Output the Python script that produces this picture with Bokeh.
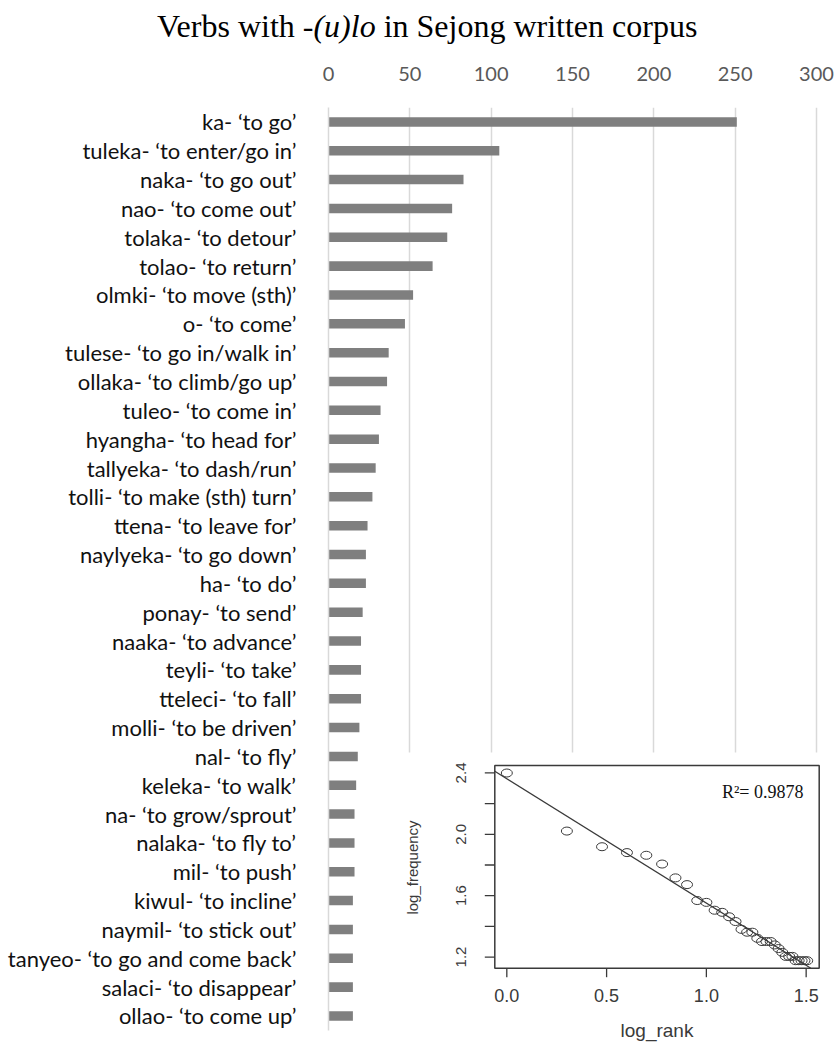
import numpy as np
from bokeh.plotting import figure
from bokeh.layouts import column
from bokeh.models import Range1d, FixedTicker, Label, Div
from bokeh.embed import file_html
from bokeh.resources import INLINE
from bokeh.core.properties import value

# ---------------- data ----------------
verbs = [
    "ka- ‘to go’", "tuleka- ‘to enter/go in’", "naka- ‘to go out’", "nao- ‘to come out’",
    "tolaka- ‘to detour’", "tolao- ‘to return’", "olmki- ‘to move (sth)’", "o- ‘to come’",
    "tulese- ‘to go in/walk in’", "ollaka- ‘to climb/go up’", "tuleo- ‘to come in’",
    "hyangha- ‘to head for’", "tallyeka- ‘to dash/run’", "tolli- ‘to make (sth) turn’",
    "ttena- ‘to leave for’", "naylyeka- ‘to go down’", "ha- ‘to do’", "ponay- ‘to send’",
    "naaka- ‘to advance’", "teyli- ‘to take’", "tteleci- ‘to fall’", "molli- ‘to be driven’",
    "nal- ‘to fly’", "keleka- ‘to walk’", "na- ‘to grow/sprout’", "nalaka- ‘to fly to’",
    "mil- ‘to push’", "kiwul- ‘to incline’", "naymil- ‘to stick out’",
    "tanyeo- ‘to go and come back’", "salaci- ‘to disappear’", "ollao- ‘to come up’",
]
counts = [251, 105, 83, 76, 73, 64, 52, 47, 37, 36, 32, 31, 29, 27, 24, 23, 23, 21,
          20, 20, 20, 19, 18, 17, 16, 16, 16, 15, 15, 15, 15, 15]
x_ticks = [0, 50, 100, 150, 200, 250, 300]
title_parts = ["Verbs with -", "(u)lo", " in Sejong written corpus"]

inset_x_ticks = [0.0, 0.5, 1.0, 1.5]
inset_x_labels = ["0.0", "0.5", "1.0", "1.5"]
inset_y_ticks = [1.2, 1.4, 1.6, 1.8, 2.0, 2.2, 2.4]
inset_y_label_vals = [1.2, 1.6, 2.0, 2.4]
inset_y_labels = ["1.2", "1.6", "2.0", "2.4"]
r2_text = "R²= 0.9878"
inset_xlabel = "log_rank"
inset_ylabel = "log_frequency"

# ---------------- layout (page pixels) ----------------
W, H = 839, 1048
TH = 50                       # title strip height
FL, FT = 328, 107             # main frame left / top
FW, FB = W - FL, H            # frame width / frame bottom
ROW = 28.84                   # pixels per category row
PX_PER_UNIT = 1.6267          # pixels per count unit
BOX_L, BOX_R, BOX_T, BOX_B = 494.3, 818.7, 765.0, 967.7
border = "#d9d9d9"

n = len(verbs)
rank = np.arange(1, n + 1)
log_rank = np.log10(rank)
log_freq = np.log10(np.array(counts, dtype=float))

def ext(lo, hi):
    d = (hi - lo) * 0.04
    return lo - d, hi + d

xlim0, xlim1 = ext(log_rank.min(), log_rank.max())
ylim0, ylim1 = ext(log_freq.min(), log_freq.max())
sx = (BOX_R - BOX_L) / (xlim1 - xlim0)
sy = (BOX_B - BOX_T) / (ylim1 - ylim0)

def ix(px):
    return xlim0 + (px - BOX_L) / sx

def iy(py):
    return ylim0 + (BOX_B - py) / sy

# ---------------- title strip ----------------
title_html = (
    '<div style="padding:10px 0 0 157px;font-family:\'Liberation Serif\',serif;'
    'font-size:32px;line-height:32px;color:#000;white-space:nowrap;">'
    f'{title_parts[0]}<i>{title_parts[1]}</i>{title_parts[2]}</div>'
)
t = Div(text=title_html, width=W, height=TH, margin=0,
        styles={"overflow": "visible", "margin": "0", "padding": "0"})

# ---------------- main chart ----------------
fh = FB - FT
p = figure(
    width=W, height=H - TH,
    y_range=Range1d(0.5 + fh / ROW, 0.5),
    x_range=Range1d(0, FW / PX_PER_UNIT),
    frame_width=FW, frame_height=fh,
    min_border_left=FL, min_border_right=0, min_border_top=FT - TH, min_border_bottom=0,
    x_axis_location="above",
    toolbar_location=None, output_backend="svg",
    outline_line_color=None, background_fill_color="white", border_fill_color="white",
)
p.extra_x_ranges = {"ix": Range1d(ix(FL), ix(W))}
p.extra_y_ranges = {"iy": Range1d(iy(FB), iy(FT))}

p.xaxis.ticker = FixedTicker(ticks=x_ticks)
p.xaxis.axis_line_color = None
p.xaxis.major_tick_line_color = None
p.xaxis.minor_tick_line_color = None
p.xaxis.major_label_text_font = "Lato"
p.xaxis.major_label_text_font_size = "20px"
p.xaxis.major_label_text_color = "#595959"
p.xaxis.major_label_standoff = 21

p.yaxis.ticker = FixedTicker(ticks=[int(r) for r in rank])
p.yaxis.major_label_overrides = {int(r): v for r, v in zip(rank, verbs)}
p.yaxis.bounds = (0.5, n + 0.5)
p.yaxis.axis_line_color = border
p.yaxis.axis_line_width = 1.5
p.yaxis.major_tick_line_color = None
p.yaxis.minor_tick_line_color = None
p.yaxis.major_label_text_font = "Lato"
p.yaxis.major_label_text_font_size = "22px"
p.yaxis.major_label_text_color = "#111111"
p.yaxis.major_label_standoff = 26

p.xgrid.grid_line_color = border
p.xgrid.grid_line_width = 1.5
try:
    p.xgrid.cross_bounds = (0.5, n + 0.5)
except Exception:
    pass
p.ygrid.grid_line_color = None

p.hbar(y=rank, left=0, right=counts, height=0.33, fill_color="#7f7f7f", line_color=None)

# ---------------- inset ----------------
dk = "#3a3a3a"
R = dict(x_range_name="ix", y_range_name="iy")
p.quad(left=ix(398), right=ix(W + 5), top=iy(752), bottom=iy(H + 5),
       fill_color="white", line_color=None, **R)
p.quad(left=xlim0, right=xlim1, top=ylim1, bottom=ylim0, fill_color=None,
       line_color=dk, line_width=1.5, **R)

p.segment(x0=[xlim0 - 10 / sx] * len(inset_y_ticks), x1=[xlim0] * len(inset_y_ticks),
          y0=inset_y_ticks, y1=inset_y_ticks, line_color=dk, line_width=1.3, **R)
p.segment(x0=inset_x_ticks, x1=inset_x_ticks, y0=[ylim0] * len(inset_x_ticks),
          y1=[ylim0 - 9 / sy] * len(inset_x_ticks), line_color=dk, line_width=1.3, **R)

p.text(x=[ix(460)] * len(inset_y_labels), y=inset_y_label_vals, text=inset_y_labels,
       angle=np.pi / 2, text_align="center", text_baseline="middle",
       text_font=value("Liberation Sans"), text_font_size="15px", text_color=dk, **R)
p.text(x=inset_x_ticks, y=[iy(995)] * len(inset_x_ticks), text=inset_x_labels,
       text_align="center", text_baseline="middle",
       text_font=value("Liberation Sans"), text_font_size="18px", text_color=dk, **R)

p.add_layout(Label(x=ix(412), y=iy(867), text=inset_ylabel, angle=np.pi / 2,
                   text_align="center", text_baseline="middle", text_font="Liberation Sans",
                   text_font_size="15px", text_color=dk, **R))
p.add_layout(Label(x=(xlim0 + xlim1) / 2, y=iy(1030), text=inset_xlabel,
                   text_align="center", text_baseline="middle", text_font="Liberation Sans",
                   text_font_size="19px", text_color=dk, **R))

slope, intercept = np.polyfit(log_rank, log_freq, 1)
lx0 = xlim0
ly0 = intercept + slope * lx0
lx1 = min(xlim1, (ylim0 - intercept) / slope)
ly1 = intercept + slope * lx1
p.segment(x0=[lx0], y0=[ly0], x1=[lx1], y1=[ly1], line_color=dk, line_width=1.2, **R)

p.ellipse(x=log_rank, y=log_freq, width=11, height=8, width_units="screen",
          height_units="screen", fill_color=None, line_color=dk, line_width=1.0, **R)

p.add_layout(Label(x=ix(803), y=iy(791), text=r2_text, text_align="right",
                   text_baseline="alphabetic", text_font="Liberation Serif",
                   text_font_size="18px", text_color="#111111", **R))

layout = column(t, p, spacing=0)
open("out.html", "w").write(file_html(layout, INLINE))
